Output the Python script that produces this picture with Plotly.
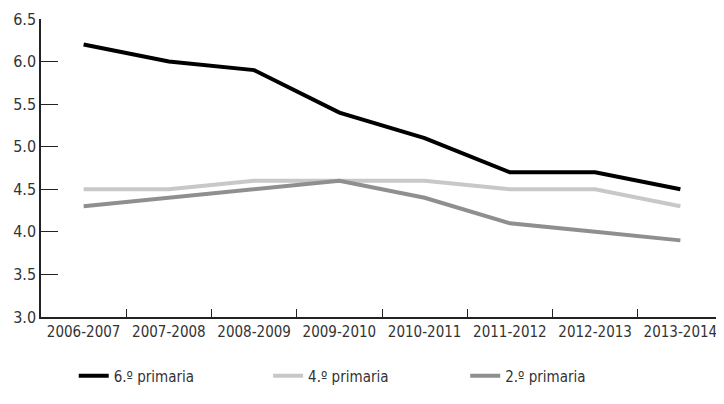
import plotly.graph_objects as go

years = ["2006-2007", "2007-2008", "2008-2009", "2009-2010",
         "2010-2011", "2011-2012", "2012-2013", "2013-2014"]
sexto = [6.2, 6.0, 5.9, 5.4, 5.1, 4.7, 4.7, 4.5]
cuarto = [4.5, 4.5, 4.6, 4.6, 4.6, 4.5, 4.5, 4.3]
segundo = [4.3, 4.4, 4.5, 4.6, 4.4, 4.1, 4.0, 3.9]

font_family = "DejaVu Sans Condensed, Liberation Sans Narrow, Roboto, sans-serif"

fig = go.Figure()
fig.add_trace(go.Scatter(x=years, y=sexto, mode="lines", name="6.º primaria",
                         line=dict(color="#000000", width=4), legend="legend"))
fig.add_trace(go.Scatter(x=years, y=cuarto, mode="lines", name="4.º primaria",
                         line=dict(color="#c8c8c8", width=4), legend="legend2"))
fig.add_trace(go.Scatter(x=years, y=segundo, mode="lines", name="2.º primaria",
                         line=dict(color="#8f8f8f", width=4), legend="legend3"))

leg = dict(y=-0.198, yanchor="middle", xanchor="left", bgcolor="rgba(0,0,0,0)",
           font=dict(size=15, color="#333333"))

fig.update_layout(
    # page body has an 8px margin, so the figure is sized to fit inside it
    width=716, height=396,
    margin=dict(l=33, r=1, t=11, b=87, autoexpand=False),
    paper_bgcolor="white", plot_bgcolor="white",
    font=dict(family=font_family, size=16, color="#333333"),
    showlegend=True,
    legend=dict(leg, x=0.048),
    legend2=dict(leg, x=0.333),
    legend3=dict(leg, x=0.622),
    xaxis=dict(type="category", showline=True, linecolor="#222222", linewidth=1.5,
               ticks="inside", ticklen=8, tickcolor="#222222", tickson="boundaries",
               tickangle=0, tickfont=dict(size=15), showgrid=False,
               range=[-0.5, 7.5], automargin=False),
    yaxis=dict(range=[3.0, 6.5], dtick=0.5, tickformat=".1f", showline=True,
               linecolor="#222222", linewidth=1.5, ticks="inside", ticklen=17,
               tickcolor="#222222", showgrid=False, zeroline=False, automargin=False),
)

fig.write_html("out.html")
